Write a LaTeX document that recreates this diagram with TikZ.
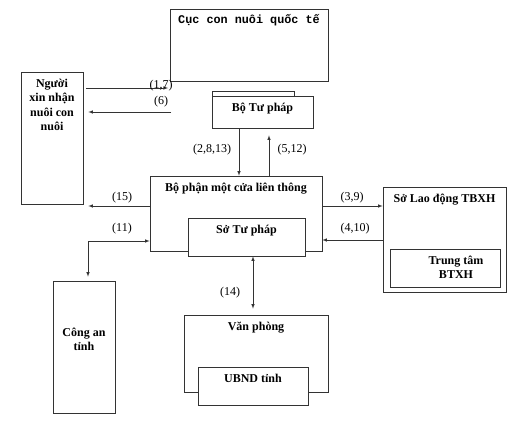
\documentclass[tikz,border=0pt]{standalone}
\usepackage{fontspec}
\setmainfont{Liberation Serif}
\newfontfamily\monofont{Liberation Mono}
\usetikzlibrary{positioning}

\tikzset{
  box/.style={draw=black!80, line width=0.6pt, fill=white, inner sep=0pt},
  boxtitle/.style={label={[font=\bfseries\fontsize{12}{14.5}\selectfont, align=center, anchor=north, yshift=-3.5pt]north:#1}},
  lbl/.style={inner sep=1pt}
}

\begin{document}
\begin{tikzpicture}[>=latex, x=1pt, y=-1pt, font=\fontsize{12}{14.5}\selectfont]
\useasboundingbox[fill=white] (0,0) rectangle (528,424);

% boxes
\node[box, minimum width=158pt, minimum height=72pt, label={[font=\monofont\bfseries\fontsize{11.8}{14}\selectfont, anchor=north, yshift=-2pt]north:Cục con nuôi quốc tế}] (cuc) at (249,45) {};
\node[box, minimum width=62pt, minimum height=132pt, boxtitle={Người\\xin nhận\\nuôi con\\nuôi}] (nguoi) at (52,138) {};
\draw[box] (212,91) rectangle (294,110);
\node[box, minimum width=101pt, minimum height=32pt, boxtitle={Bộ Tư pháp}] (btp) at (262.5,112) {};
\node[box, minimum width=172pt, minimum height=75pt, boxtitle={Bộ phận một cửa liên thông}] (bp) at (236,213.5) {};
\node[box, minimum width=117pt, minimum height=38pt, boxtitle={Sở Tư pháp}] (stp) at (246.5,237) {};
\node[box, minimum width=123pt, minimum height=105pt, boxtitle={Sở Lao động TBXH}] (sld) at (444.5,239.5) {};
\node[box, minimum width=110pt, minimum height=38pt, label={[font=\bfseries\fontsize{12}{14.5}\selectfont, align=center, anchor=north, yshift=-3.5pt, xshift=11pt]north:{Trung tâm\\BTXH}}] (tt) at (445,268) {};
\node[box, minimum width=62pt, minimum height=132pt, label={[font=\bfseries\fontsize{12}{14.5}\selectfont, align=center, yshift=7.5pt]center:{Công an\\tỉnh}}] (cong) at (84,347) {};
\node[box, minimum width=144pt, minimum height=77pt, boxtitle={Văn phòng}] (vp) at (256,353.5) {};
\node[box, minimum width=110pt, minimum height=38pt, boxtitle={UBND tỉnh}] (ubnd) at (253,386) {};

\coordinate (c17) at (168,88);
\coordinate (c6) at (171,112);

% connectors
\begin{scope}[draw=black!80, line width=0.6pt]
\draw[->, shorten <=3pt] (nguoi.east |- c17) -- (c17);
\draw[->, shorten >=5pt] (c6) -- (nguoi.east |- c6);
\draw[->] ([xshift=-23.5pt]btp.south) -- ([xshift=-23.5pt]btp.south |- bp.north);
\draw[->, shorten >=7pt] ([xshift=33pt]bp.north) -- ([xshift=33pt]bp.north |- btp.south);
\draw[->, shorten >=5pt] ([yshift=7.5pt]bp.west) -- ([yshift=7.5pt]bp.west -| nguoi.east);
\draw[<->, shorten <=4pt] ([xshift=4pt]cong.north) |- ([yshift=-27.5pt]bp.west);
\draw[->] ([yshift=7.5pt]bp.east) -- ([yshift=7.5pt]bp.east -| sld.west);
\draw[<-] ([yshift=-26.5pt]bp.east) -- ([yshift=-26.5pt]bp.east -| sld.west);
\draw[<->, shorten >=6pt] ([xshift=6.5pt]stp.south) -- ([xshift=6.5pt]stp.south |- vp.north);
\end{scope}

% labels
\node[lbl] (l17) at (161,86) {(1,7)};
\node[lbl] (l6) at (161,102) {(6)};
\node[lbl] (l2) at (212,150) {(2,8,13)};
\node[lbl] (l5) at (292,150) {(5,12)};
\node[lbl] (l15) at (122,198) {(15)};
\node[lbl] (l11) at (122,229) {(11)};
\node[lbl] (l3) at (352,198) {(3,9)};
\node[lbl] (l4) at (355,229) {(4,10)};
\node[lbl] (l14) at (230,293) {(14)};
\end{tikzpicture}
\end{document}
